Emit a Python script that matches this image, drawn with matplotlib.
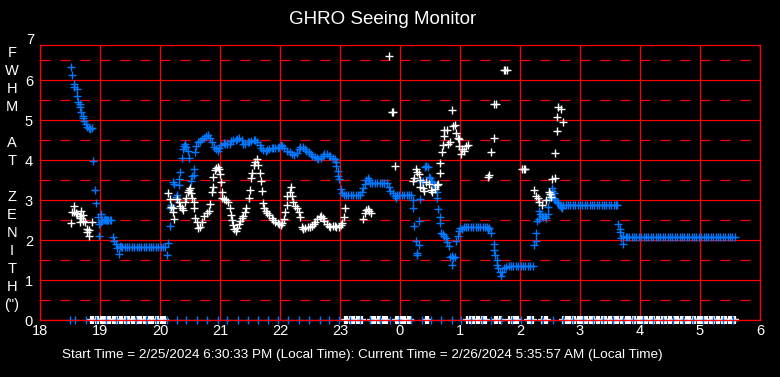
import numpy as np
import matplotlib
matplotlib.use("Agg")
import matplotlib.pyplot as plt

plt.rcParams['font.family'] = ['Liberation Sans', 'DejaVu Sans']

# hours since midnight of 2/25 (24 = midnight of 2/26)
blue_t = [
    18.52, 18.54, 18.56, 18.57, 18.61, 18.62, 18.64, 18.66, 18.67, 18.69,
    18.71, 18.72, 18.74, 18.76, 18.79, 18.81, 18.83, 18.86, 18.89, 18.91,
    18.94, 18.96, 18.98, 18.99, 19.01, 19.02, 19.04, 19.06, 19.08, 19.10,
    19.12, 19.14, 19.16, 19.18, 19.22, 19.24, 19.27, 19.29, 19.31, 19.33,
    19.35, 19.37, 19.41, 19.45, 19.49, 19.53, 19.57, 19.61, 19.65, 19.69,
    19.73, 19.77, 19.81, 19.85, 19.89, 19.93, 19.97, 20.01, 20.05, 20.09,
    20.12, 20.13, 20.16, 20.17, 20.19, 20.21, 20.23, 20.26, 20.28, 20.31,
    20.32, 20.34, 20.36, 20.38, 20.40, 20.42, 20.43, 20.47, 20.49, 20.52,
    20.53, 20.56, 20.57, 20.59, 20.60, 20.63, 20.67, 20.70, 20.73, 20.77,
    20.80, 20.83, 20.87, 20.90, 20.93, 20.96, 20.99, 21.02, 21.06, 21.09,
    21.12, 21.16, 21.19, 21.22, 21.26, 21.29, 21.32, 21.36, 21.39, 21.42,
    21.46, 21.49, 21.52, 21.56, 21.59, 21.62, 21.66, 21.69, 21.72, 21.76,
    21.79, 21.82, 21.86, 21.89, 21.92, 21.96, 21.99, 22.02, 22.04, 22.07,
    22.11, 22.16, 22.20, 22.24, 22.28, 22.31, 22.34, 22.38, 22.41, 22.44,
    22.48, 22.51, 22.54, 22.58, 22.61, 22.64, 22.68, 22.71, 22.74, 22.78,
    22.81, 22.84, 22.88, 22.91, 22.93, 22.94, 22.96, 22.97, 22.99, 23.01,
    23.03, 23.06, 23.10, 23.14, 23.18, 23.22, 23.26, 23.30, 23.34, 23.37,
    23.39, 23.41, 23.43, 23.46, 23.48, 23.50, 23.54, 23.58, 23.62, 23.66,
    23.70, 23.74, 23.78, 23.81, 23.84, 23.88, 23.91, 23.93, 23.95, 23.99,
    24.03, 24.07, 24.11, 24.15, 24.18, 24.21, 24.22, 24.24, 24.26, 24.28,
    24.29, 24.31, 24.32, 24.34, 24.37, 24.39, 24.41, 24.43, 24.46, 24.48,
    24.50, 24.52, 24.54, 24.57, 24.59, 24.61, 24.62, 24.64, 24.66, 24.67,
    24.69, 24.72, 24.74, 24.77, 24.79, 24.82, 24.83, 24.86, 24.87, 24.88,
    24.91, 24.93, 24.96, 24.98, 25.00, 25.03, 25.06, 25.10, 25.14, 25.18,
    25.22, 25.26, 25.30, 25.34, 25.38, 25.42, 25.45, 25.47, 25.49, 25.52,
    25.56, 25.57, 25.59, 25.61, 25.62, 25.64, 25.67, 25.68, 25.70, 25.73,
    25.77, 25.81, 25.85, 25.89, 25.93, 25.97, 26.01, 26.05, 26.09, 26.13,
    26.17, 26.21, 26.24, 26.26, 26.27, 26.29, 26.31, 26.32, 26.34, 26.37,
    26.39, 26.41, 26.43, 26.46, 26.47, 26.49, 26.51, 26.53, 26.54, 26.56,
    26.57, 26.58, 26.61, 26.63, 26.66, 26.68, 26.70, 26.72, 26.76, 26.80,
    26.84, 26.88, 26.92, 26.96, 27.00, 27.04, 27.08, 27.12, 27.16, 27.20,
    27.24, 27.28, 27.32, 27.36, 27.40, 27.44, 27.48, 27.52, 27.56, 27.60,
    27.62, 27.64, 27.66, 27.67, 27.69, 27.71, 27.72, 27.76, 27.78, 27.82,
    27.86, 27.90, 27.94, 27.98, 28.02, 28.06, 28.10, 28.14, 28.18, 28.22,
    28.26, 28.30, 28.34, 28.38, 28.42, 28.46, 28.50, 28.54, 28.58, 28.62,
    28.66, 28.70, 28.74, 28.78, 28.82, 28.86, 28.90, 28.94, 28.98, 29.02,
    29.06, 29.10, 29.14, 29.18, 29.22, 29.26, 29.30, 29.34, 29.38, 29.42,
    29.46, 29.50, 29.54, 29.58,
]
blue_v = [
    6.32, 6.12, 5.89, 5.83, 5.77, 5.59, 5.46, 5.39, 5.32, 5.19,
    5.11, 5.06, 4.97, 4.89, 4.83, 4.79, 4.77, 4.79, 3.97, 3.24,
    2.92, 2.57, 2.11, 2.39, 2.64, 2.46, 2.51, 2.50, 2.52, 2.50,
    2.51, 2.50, 2.50, 2.50, 2.07, 1.97, 1.90, 1.79, 1.64, 1.85,
    1.82, 1.82, 1.82, 1.82, 1.82, 1.82, 1.82, 1.82, 1.82, 1.82,
    1.82, 1.82, 1.82, 1.82, 1.82, 1.82, 1.82, 1.82, 1.82, 1.82,
    1.63, 1.93, 2.34, 2.81, 2.87, 3.44, 3.39, 3.08, 3.13, 3.38,
    3.52, 3.69, 4.04, 4.28, 4.35, 4.39, 4.33, 4.22, 4.04, 3.48,
    3.61, 3.63, 3.77, 4.19, 4.36, 4.44, 4.48, 4.53, 4.56, 4.61,
    4.63, 4.56, 4.44, 4.33, 4.28, 4.22, 4.31, 4.38, 4.42, 4.39,
    4.39, 4.41, 4.48, 4.50, 4.50, 4.53, 4.54, 4.49, 4.41, 4.39,
    4.44, 4.46, 4.48, 4.50, 4.51, 4.46, 4.38, 4.29, 4.24, 4.22,
    4.25, 4.28, 4.29, 4.29, 4.31, 4.31, 4.33, 4.38, 4.36, 4.29,
    4.22, 4.19, 4.16, 4.13, 4.17, 4.27, 4.33, 4.33, 4.27, 4.22,
    4.19, 4.14, 4.11, 4.08, 4.06, 4.02, 4.04, 4.11, 4.16, 4.14,
    4.11, 4.09, 4.06, 4.02, 3.96, 3.86, 3.73, 3.60, 3.53, 3.27,
    3.17, 3.12, 3.12, 3.12, 3.12, 3.12, 3.12, 3.12, 3.12, 3.19,
    3.29, 3.39, 3.51, 3.54, 3.49, 3.43, 3.43, 3.43, 3.43, 3.43,
    3.43, 3.43, 3.43, 3.33, 3.23, 3.18, 3.11, 3.06, 3.12, 3.12,
    3.12, 3.12, 3.12, 3.12, 3.12, 3.00, 2.79, 2.34, 1.98, 1.68,
    1.63, 1.88, 2.48, 3.02, 3.44, 3.48, 3.83, 3.86, 3.83, 3.58,
    3.54, 3.48, 3.44, 3.39, 3.33, 3.21, 3.04, 2.78, 2.58, 2.42,
    2.17, 2.14, 2.10, 2.04, 1.94, 1.85, 1.58, 1.59, 1.38, 1.56,
    1.58, 1.98, 2.11, 2.23, 2.31, 2.28, 2.33, 2.33, 2.33, 2.33,
    2.33, 2.33, 2.33, 2.33, 2.33, 2.33, 2.33, 2.28, 2.31, 2.17,
    1.89, 1.75, 1.63, 1.50, 1.38, 1.31, 1.21, 1.10, 1.21, 1.31,
    1.33, 1.35, 1.35, 1.35, 1.35, 1.35, 1.35, 1.35, 1.35, 1.35,
    1.35, 1.35, 1.88, 1.98, 2.17, 2.48, 2.52, 2.72, 2.64, 2.61,
    2.58, 2.61, 2.54, 2.64, 2.83, 3.02, 3.12, 3.29, 3.23, 3.06,
    3.17, 3.00, 2.96, 2.92, 2.88, 2.83, 2.79, 2.87, 2.87, 2.87,
    2.87, 2.87, 2.87, 2.87, 2.87, 2.87, 2.87, 2.87, 2.87, 2.87,
    2.87, 2.87, 2.87, 2.87, 2.87, 2.87, 2.87, 2.87, 2.87, 2.87,
    2.87, 2.39, 2.28, 2.19, 2.06, 1.89, 2.11, 2.08, 2.07, 2.07,
    2.07, 2.07, 2.07, 2.07, 2.07, 2.07, 2.07, 2.07, 2.07, 2.07,
    2.07, 2.07, 2.07, 2.07, 2.07, 2.07, 2.07, 2.07, 2.07, 2.07,
    2.07, 2.07, 2.07, 2.07, 2.07, 2.07, 2.07, 2.07, 2.07, 2.07,
    2.07, 2.07, 2.07, 2.07, 2.07, 2.07, 2.07, 2.07, 2.07, 2.07,
    2.07, 2.07, 2.07, 2.07,
]

white_t = [
    18.52, 18.53, 18.56, 18.57, 18.60, 18.62, 18.66, 18.66, 18.67, 18.68,
    18.69, 18.71, 18.72, 18.75, 18.78, 18.79, 18.81, 18.82, 18.86,
    20.14, 20.16, 20.19, 20.21, 20.22, 20.23, 20.28, 20.31, 20.33, 20.37,
    20.39, 20.41, 20.43, 20.46, 20.48, 20.50, 20.52, 20.54, 20.56, 20.57,
    20.59, 20.61, 20.64, 20.67, 20.70, 20.73, 20.78, 20.82, 20.84, 20.86,
    20.88, 20.89, 20.91, 20.93, 20.96, 20.98, 21.00, 21.01, 21.03, 21.04,
    21.07, 21.10, 21.13, 21.16, 21.18, 21.20, 21.22, 21.24, 21.27, 21.29,
    21.31, 21.33, 21.36, 21.39, 21.42, 21.44, 21.48, 21.50, 21.52, 21.54,
    21.57, 21.59, 21.61, 21.64, 21.67, 21.69, 21.70, 21.72, 21.74, 21.77,
    21.79, 21.82, 21.86, 21.89, 21.92, 21.96, 21.99, 22.02, 22.04, 22.06,
    22.09, 22.11, 22.12, 22.16, 22.18, 22.20, 22.22, 22.25, 22.28, 22.31,
    22.33, 22.36, 22.39, 22.42, 22.46, 22.50, 22.53, 22.57, 22.59, 22.62,
    22.66, 22.69, 22.71, 22.74, 22.78, 22.81, 22.84, 22.88, 22.91, 22.94,
    22.98, 23.01, 23.03, 23.06, 23.09, 23.39, 23.41, 23.43, 23.46, 23.49,
    23.52, 23.82, 23.86, 23.89, 23.92,
    24.22, 24.24, 24.26, 24.28, 24.31, 24.33, 24.34, 24.38, 24.40, 24.44,
    24.48, 24.51, 24.54, 24.58, 24.61, 24.64, 24.66, 24.67, 24.70, 24.71,
    24.74, 24.74, 24.78, 24.80, 24.83, 24.87, 24.89, 24.92, 24.93, 24.96,
    24.98, 24.99, 25.01, 25.03, 25.07, 25.10, 25.13, 25.46, 25.49, 25.52,
    25.56, 25.57, 25.60, 25.73, 25.75, 25.78, 26.03, 26.06, 26.09, 26.24,
    26.27, 26.30, 26.32, 26.36, 26.44, 26.48, 26.50, 26.52, 26.53, 26.58,
    26.59, 26.61, 26.62, 26.64, 26.69, 26.71,
]
white_v = [
    2.43, 2.70, 2.84, 2.71, 2.68, 2.64, 2.59, 2.44, 2.56, 2.54,
    2.72, 2.63, 2.48, 2.44, 2.27, 2.21, 2.25, 2.09, 2.46,
    3.17, 3.03, 2.83, 2.79, 2.71, 2.53, 3.03, 2.96, 2.86, 2.79,
    2.76, 2.96, 3.06, 3.19, 3.24, 3.29, 3.17, 3.04, 2.94, 2.79,
    2.54, 2.46, 2.29, 2.33, 2.46, 2.61, 2.67, 2.73, 2.89, 3.19,
    3.33, 3.58, 3.75, 3.81, 3.83, 3.77, 3.64, 3.46, 3.21, 3.06,
    3.03, 3.00, 2.96, 2.79, 2.63, 2.50, 2.38, 2.27, 2.23, 2.31,
    2.39, 2.48, 2.54, 2.61, 2.69, 2.81, 3.06, 3.24, 3.54, 3.67,
    3.88, 3.96, 4.03, 3.88, 3.67, 3.48, 3.23, 2.92, 2.79, 2.73,
    2.67, 2.63, 2.54, 2.51, 2.46, 2.43, 2.39, 2.38, 2.42, 2.53,
    2.71, 2.88, 3.11, 3.21, 3.33, 3.11, 2.94, 2.86, 2.79, 2.71,
    2.58, 2.33, 2.27, 2.31, 2.33, 2.33, 2.36, 2.39, 2.46, 2.53,
    2.58, 2.61, 2.54, 2.48, 2.39, 2.34, 2.33, 2.34, 2.34, 2.33,
    2.33, 2.38, 2.42, 2.57, 2.79, 2.53, 2.67, 2.75, 2.78, 2.73,
    2.67, 6.60, 5.21, 5.21, 3.84,
    3.48, 3.54, 3.78, 3.71, 3.64, 3.50, 3.33, 3.29, 3.23, 3.46,
    3.39, 3.25, 3.21, 3.28, 3.38, 3.39, 3.67, 3.92, 4.21, 4.38,
    4.59, 4.76, 4.74, 4.39, 4.44, 5.24, 4.84, 4.88, 4.67, 4.56,
    4.53, 4.36, 4.16, 4.28, 4.22, 4.36, 4.38, 3.58, 3.63, 4.19,
    4.54, 5.39, 5.39, 6.24, 6.24, 6.24, 3.78, 3.78, 3.78, 3.24,
    3.11, 3.04, 2.96, 2.88, 3.00, 3.21, 3.14, 3.08, 3.52, 3.54,
    4.17, 4.72, 5.08, 5.33, 5.27, 4.94,
]

# samples that came back as zero
blue_zero_t = [
    18.50, 18.58, 18.76, 18.93, 19.10, 19.26, 19.43, 19.60, 19.76, 19.93,
    20.11, 20.28, 20.44, 20.62, 20.79, 20.96, 21.12, 21.30, 21.47, 21.63,
    21.80, 21.97, 22.14, 22.32, 22.49, 22.66, 22.82, 22.99, 23.16, 23.33,
    23.50, 23.67, 23.83, 23.99, 24.19, 24.36, 24.52, 24.69, 24.86, 25.02,
    25.19, 25.36, 25.52, 25.69, 25.86, 26.02, 26.19, 26.36, 26.55, 26.71,
    26.88, 27.05, 27.21, 27.38, 27.55, 27.71, 27.88, 28.05, 28.21, 28.38,
    28.55, 28.71, 28.88, 29.05, 29.21, 29.38, 29.55,
]
white_zero_t = [
    18.85, 18.89, 18.93, 18.97, 19.01, 19.05, 19.09, 19.13, 19.17, 19.21,
    19.25, 19.29, 19.33, 19.37, 19.41, 19.45, 19.49, 19.53, 19.57, 19.61,
    19.65, 19.69, 19.73, 19.77, 19.81, 19.85, 19.89, 19.93, 19.97, 20.01,
    20.05, 20.09,
    23.08, 23.12, 23.16, 23.20, 23.24, 23.28, 23.32, 23.36,
    23.51, 23.55, 23.59, 23.63, 23.67, 23.71, 23.75, 23.79,
    23.93, 23.97, 24.01, 24.05, 24.09, 24.13, 24.17,
    24.43, 24.46,
    25.12, 25.16, 25.20, 25.24, 25.28, 25.32, 25.36, 25.40, 25.44,
    25.58, 25.62, 25.66, 25.69,
    25.82, 25.86, 25.90, 25.94, 25.97,
    26.13, 26.17, 26.21,
    26.37, 26.41, 26.45,
    26.72, 26.76, 26.80, 26.84, 26.88, 26.92, 26.96, 27.00, 27.04, 27.08,
    27.12, 27.16, 27.20, 27.24, 27.28, 27.32, 27.36, 27.40, 27.44, 27.48,
    27.52, 27.56, 27.60, 27.64, 27.68, 27.72, 27.76, 27.80, 27.84, 27.88,
    27.92, 27.96, 28.00, 28.04, 28.08, 28.12, 28.16, 28.20, 28.24, 28.28,
    28.32, 28.36, 28.40, 28.44, 28.48, 28.52, 28.56, 28.60, 28.64, 28.68,
    28.72, 28.76, 28.80, 28.84, 28.88, 28.92, 28.96, 29.00, 29.04, 29.08,
    29.12, 29.16, 29.20, 29.24, 29.28, 29.32, 29.36, 29.40, 29.44, 29.48,
    29.52, 29.56, 29.58,
]

x_ticks = list(range(18, 31))
x_labels = [str(h % 24) for h in x_ticks]
y_letters = ['F', 'W', 'H', 'M', '', 'A', 'T', '', 'Z', 'E', 'N', 'I', 'T', 'H', '(")']

title = 'GHRO Seeing Monitor'
footer = ('Start Time = 2/25/2024 6:30:33 PM (Local Time): '
          'Current Time = 2/26/2024 5:35:57 AM (Local Time)')

BLUE = '#0078ff'
RED = '#ff0000'

fig = plt.figure(figsize=(7.8, 3.77), dpi=100, facecolor='black')
ax = fig.add_axes([40 / 780, 57 / 377, 720 / 780, 275 / 377], facecolor='black')

ax.set_xlim(18, 30)
ax.set_ylim(0, 6.875)

ax.set_xticks(x_ticks)
ax.set_xticklabels(x_labels)
ax.set_yticks(range(0, 7))
ax.set_yticks(np.arange(0.5, 7, 1.0), minor=True)
ax.tick_params(which='both', length=0, colors='white', labelsize=10.5)
ax.tick_params(axis='x', pad=3)
ax.tick_params(axis='y', pad=5)
ax.text(-0.0085, 7, '7', color='white', fontsize=10.5, ha='right', va='center',
        transform=ax.get_yaxis_transform(), clip_on=False)

ax.grid(which='major', color=RED, linewidth=0.9)
ax.grid(which='minor', axis='y', color=RED, linewidth=0.9, linestyle=(0, (8, 8)))
ax.set_axisbelow(True)
for s in ax.spines.values():
    s.set_color(RED)
    s.set_linewidth(0.9)

mk = dict(marker='+', linestyle='none', markersize=5.5, markeredgewidth=1.0, clip_on=False)
zk = dict(mk, markeredgewidth=1.6)
ax.plot(white_zero_t, np.zeros(len(white_zero_t)), color='white', **zk)
ax.plot(blue_zero_t, np.zeros(len(blue_zero_t)), color=BLUE, **mk)
ax.plot(blue_t, blue_v, color=BLUE, **mk)
ax.plot(white_t, white_v, color='white', **mk)

fig.text(383 / 780, 1 - 20 / 377, title, color='white', fontsize=13.5, ha='center', va='center')
fig.text(362 / 780, 1 - 355 / 377, footer, color='white', fontsize=9.7, ha='center', va='center')
for i, ch in enumerate(y_letters):
    fig.text(12 / 780, 1 - (53 + 18 * i) / 377, ch, color='white', fontsize=10.5,
             ha='center', va='center')

fig.savefig('out.png', dpi=100, facecolor='black')
